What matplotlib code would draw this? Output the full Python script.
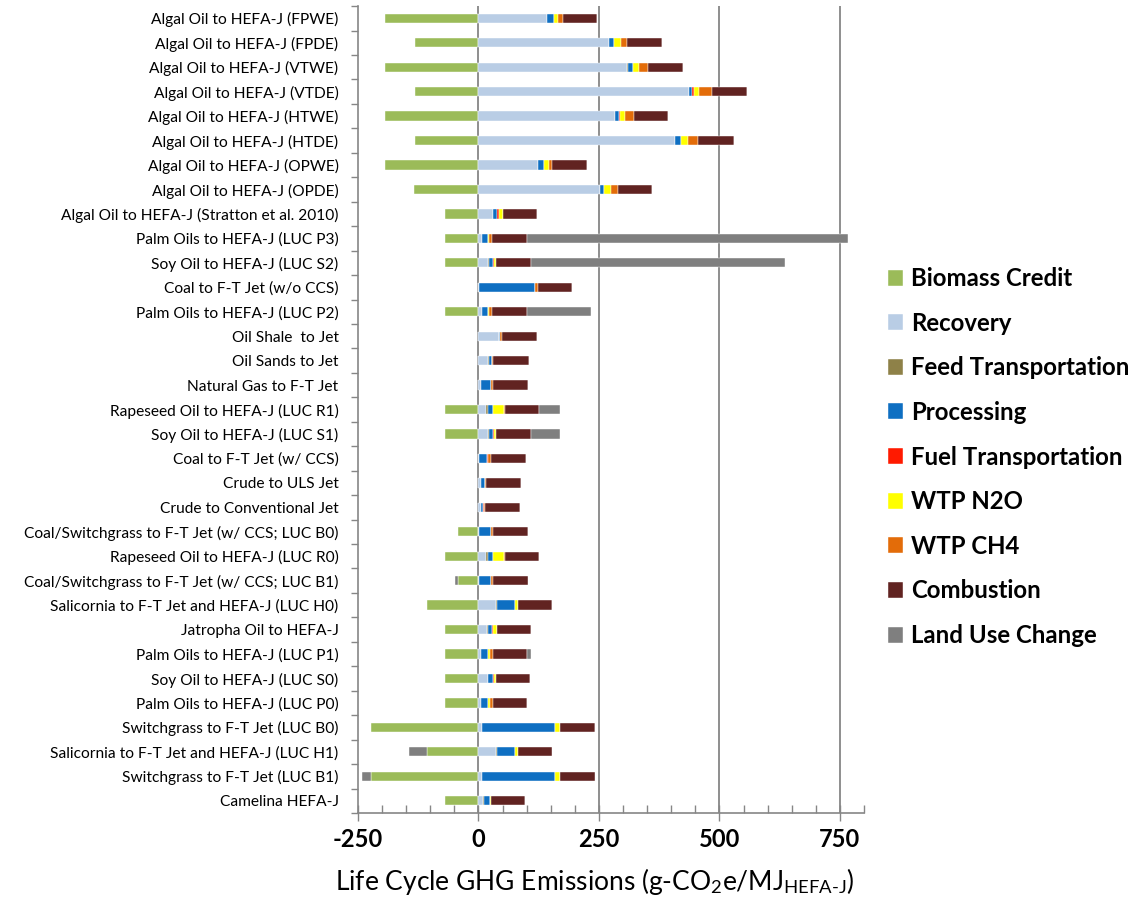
import numpy as np
import matplotlib
matplotlib.use('Agg')
import matplotlib.pyplot as plt
from matplotlib.ticker import MultipleLocator, FixedLocator, NullFormatter

plt.rcParams['font.family'] = ['Lato', 'DejaVu Sans']
plt.rcParams['mathtext.fontset'] = 'custom'
plt.rcParams['mathtext.rm'] = 'Lato'
plt.rcParams['mathtext.it'] = 'Lato:italic'
plt.rcParams['mathtext.bf'] = 'Lato:bold'
plt.rcParams['axes.unicode_minus'] = False

# pathways, top to bottom
pathways = [
    'Algal Oil to HEFA-J (FPWE)', 'Algal Oil to HEFA-J (FPDE)',
    'Algal Oil to HEFA-J (VTWE)', 'Algal Oil to HEFA-J (VTDE)',
    'Algal Oil to HEFA-J (HTWE)', 'Algal Oil to HEFA-J (HTDE)',
    'Algal Oil to HEFA-J (OPWE)', 'Algal Oil to HEFA-J (OPDE)',
    'Algal Oil to HEFA-J (Stratton et al. 2010)',
    'Palm Oils to HEFA-J (LUC P3)', 'Soy Oil to HEFA-J (LUC S2)',
    'Coal to F-T Jet (w/o CCS)', 'Palm Oils to HEFA-J (LUC P2)',
    'Oil Shale  to Jet', 'Oil Sands to Jet', 'Natural Gas to F-T Jet',
    'Rapeseed Oil to HEFA-J (LUC R1)', 'Soy Oil to HEFA-J (LUC S1)',
    'Coal to F-T Jet (w/ CCS)', 'Crude to ULS Jet', 'Crude to Conventional Jet',
    'Coal/Switchgrass to F-T Jet (w/ CCS; LUC B0)',
    'Rapeseed Oil to HEFA-J (LUC R0)',
    'Coal/Switchgrass to F-T Jet (w/ CCS; LUC B1)',
    'Salicornia to F-T Jet and HEFA-J (LUC H0)', 'Jatropha Oil to HEFA-J',
    'Palm Oils to HEFA-J (LUC P1)', 'Soy Oil to HEFA-J (LUC S0)',
    'Palm Oils to HEFA-J (LUC P0)', 'Switchgrass to F-T Jet (LUC B0)',
    'Salicornia to F-T Jet and HEFA-J (LUC H1)',
    'Switchgrass to F-T Jet (LUC B1)', 'Camelina HEFA-J',
]

biomass = [-194, -131, -194, -131, -194, -131, -194, -134, -69, -69, -69, 0, -69, 0, 0, 0,
           -69, -69, 0, 0, 0, -43, -69, -43, -106, -69, -69, -69, -69, -222, -106, -222, -69]
recovery = [143, 270, 308, 436, 283, 408, 124, 252, 31, 7, 19, 1, 7, 42, 19, 5,
            16, 19, 1, 5, 5, 1, 16, 1, 37, 18, 6, 19, 6, 8, 37, 8, 10]
feed = [0, 0, 2, 0, 0, 0, 0, 0, 0, 0, 2, 0, 0, 0, 2, 0,
        3, 2, 0, 0, 0, 0, 3, 0, 2, 2, 0, 1, 0, 0, 2, 0, 1]
processing = [13, 11, 10, 8, 8, 12, 11, 9, 7, 12, 10, 117, 12, 3, 7, 20,
              11, 10, 17, 8, 5, 25, 11, 25, 37, 9, 13, 10, 13, 151, 37, 151, 13]
fuel_trans = [0, 0, 0, 3, 3, 0, 0, 0, 4, 0, 2, 0, 0, 0, 0, 0,
              0, 2, 2, 0, 2, 0, 0, 0, 0, 2, 0, 2, 0, 0, 0, 0, 0]
wtp_n2o = [10, 14, 14, 11, 11, 14, 11, 14, 8, 3, 4, 0, 3, 0, 0, 0,
           23, 4, 0, 0, 0, 0, 23, 0, 6, 8, 4, 4, 4, 11, 6, 11, 3]
wtp_ch4 = [9, 14, 17, 26, 17, 22, 6, 15, 0, 7, 0, 6, 7, 3, 3, 6,
           3, 0, 7, 3, 1, 5, 3, 5, 0, 0, 7, 0, 7, 0, 0, 0, 0]
combustion = [71, 71, 74, 74, 71, 74, 74, 70, 71, 71, 71, 71, 71, 73, 73, 71,
              69, 71, 71, 73, 74, 71, 69, 71, 70, 71, 71, 71, 71, 71, 70, 71, 70]
luc = [0, 0, 0, 0, 0, 0, 0, 0, 0, 667, 528, 0, 134, 0, 0, 0,
       45, 62, 0, 0, 0, 0, 0, -6, 0, 0, 8, 0, 0, 0, -39, -20, 0]

series = [
    ('Biomass Credit', biomass, '#9BBB59'),
    ('Recovery', recovery, '#B9CDE5'),
    ('Feed Transportation', feed, '#8E8148'),
    ('Processing', processing, '#0E6FC2'),
    ('Fuel Transportation', fuel_trans, '#FF1A00'),
    ('WTP N2O', wtp_n2o, '#FFFF00'),
    ('WTP CH4', wtp_ch4, '#E36C09'),
    ('Combustion', combustion, '#612321'),
    ('Land Use Change', luc, '#7F7F7F'),
]

fig = plt.figure(figsize=(11.31, 8.99), dpi=100)
ax = fig.add_axes([0.3165, 0.0957, 0.4475, 0.8975])

y = np.arange(len(pathways))
pos = np.zeros(len(pathways))
neg = np.zeros(len(pathways))
for name, vals, color in series:
    vals = np.array(vals, dtype=float)
    left = np.where(vals >= 0, pos, neg)
    ax.barh(y, vals, left=left, height=0.38, color=color,
            edgecolor='white', linewidth=0.3, label=name, zorder=3)
    pos += np.where(vals >= 0, vals, 0)
    neg += np.where(vals < 0, vals, 0)

ax.set_xlim(-250, 800)
ax.set_ylim(len(pathways) - 0.5, -0.5)

ax.xaxis.set_major_locator(MultipleLocator(250))
ax.xaxis.set_minor_locator(MultipleLocator(50))
ax.tick_params(axis='x', which='major', direction='inout', length=12,
               width=1, color='#868686', labelsize=17, pad=5)
ax.tick_params(axis='x', which='minor', direction='in', length=6,
               width=1, color='#868686')
for lbl in ax.get_xticklabels():
    lbl.set_fontweight('bold')

ax.set_yticks(y)
ax.set_yticklabels(pathways, fontsize=11.2)
ax.yaxis.set_minor_locator(FixedLocator(np.arange(-0.5, len(pathways), 1)))
ax.yaxis.set_minor_formatter(NullFormatter())
ax.tick_params(axis='y', which='major', length=0, pad=14)
ax.tick_params(axis='y', which='minor', length=5, width=1, color='#868686',
               direction='out')

for gx in [0, 250, 500, 750]:
    ax.axvline(gx, color='#868686', linewidth=1.3, zorder=1)

for side in ['top', 'right']:
    ax.spines[side].set_visible(False)
for side in ['left', 'bottom']:
    ax.spines[side].set_color('#868686')
    ax.spines[side].set_linewidth(1.2)

ax.set_xlabel(r'Life Cycle GHG Emissions (g-CO$_2$e/MJ$_{\mathrm{HEFA\text{-}J}}$)',
              fontsize=19)
ax.xaxis.set_label_coords(0.468, -0.066)

leg = fig.legend(loc='upper left', bbox_to_anchor=(0.785, 0.703), frameon=False,
                 fontsize=17.3, handlelength=0.65, handleheight=0.65,
                 handletextpad=0.3, labelspacing=0.9, borderpad=0,
                 borderaxespad=0)
for t in leg.get_texts():
    t.set_fontweight('bold')

fig.savefig('out.png', dpi=100)
